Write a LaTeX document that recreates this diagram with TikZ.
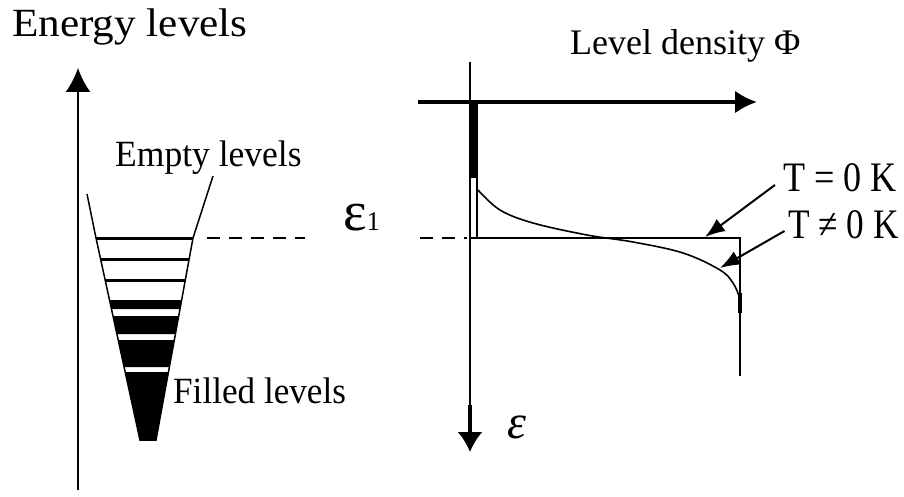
\documentclass[tikz,border=0pt]{standalone}
\usepackage{fontspec}
\setmainfont{Liberation Serif}
\usetikzlibrary{arrows.meta,calc}
\begin{document}
\begin{tikzpicture}[x=1pt,y=-1pt,
  lbl/.style={inner sep=0pt,anchor=base west,font=\fontsize{37}{40}\selectfont},
  tlbl/.style={inner sep=0pt,anchor=base west,font=\fontsize{42}{44}\selectfont},
  dashline/.style={line width=2pt,dash pattern=on 13pt off 9pt},
  ptr/.style={line width=2pt,-{Latex[length=20pt,width=15pt]}},
  thinline/.style={line width=2pt}]
\useasboundingbox (0,0) rectangle (904,497);

% ---------- texts ----------
\node[lbl,font=\fontsize{40}{44}\selectfont] (energy) at (12,37) {\scalebox{1.08}[1]{Energy levels}};
\node[lbl] (empty) at (115,167) {\scalebox{0.96}[1]{Empty levels}};
\node[lbl] (filled) at (173,403) {\scalebox{0.95}[1]{Filled levels}};
\node[lbl,font=\fontsize{36}{40}\selectfont] (dens) at (570,55) {Level density Φ};
\node[inner sep=0pt,anchor=base west] (eps1) at (343,230) {\fontsize{56}{60}\selectfont ε\fontsize{27}{30}\selectfont 1};
\node[inner sep=0pt,anchor=base west] (epsax) at (507,438) {\fontsize{48}{50}\selectfont\itshape ε};
\node[tlbl] (t0) at (783,192) {\scalebox{0.86}[1]{T = 0 K}};
\node[tlbl] (t1) at (788,238) {\scalebox{0.84}[1]{T ≠ 0 K}};

% ---------- left: energy axis ----------
\coordinate (ea0) at (78,490);
\coordinate (ea1) at (78,68);
\draw[line width=2pt,-{Latex[length=24pt,width=25pt]}] (ea0) -- (ea1);

% ---------- funnel ----------
\draw[line width=1.5pt] (87,194) -- (96,238) -- (140,440) -- (156,440) -- (193,238) -- (213,176);
\draw[line width=3pt] (96,238) -- (193,238);
\draw[line width=3pt] (100.6,259) -- (189.2,259);
\draw[line width=3pt] (105.1,280) -- (185.3,280);
\fill (109.5,300) -- (181.6,300) -- (180.0,309) -- (111.5,309) -- cycle;
\fill (113.0,316) -- (178.7,316) -- (175.4,334) -- (116.9,334) -- cycle;
\fill (118.2,340) -- (174.3,340) -- (169.4,367) -- (124.1,367) -- cycle;
\fill (125.2,372) -- (168.5,372) -- (156,440) -- (140,440) -- cycle;
\coordinate (fl0) at (207,238);
\coordinate (fl1) at (305,238);
\draw[dashline] (fl0) -- (fl1);

% ---------- right: density diagram ----------
\coordinate (hx0) at (418,102);
\coordinate (hx1) at (757,102);
\draw[line width=4pt,-{Latex[length=22pt,width=23pt]}] (hx0) -- (hx1);
\coordinate (vx0) at (470,62);
\coordinate (vx1) at (470,452);
\draw[line width=2.5pt,-{Latex[length=20pt,width=25pt]}] (vx0) -- (vx1);
\draw[line width=4.5pt] (470,405) -- (470,434);
\coordinate (rl0) at (420,238);
\coordinate (rl1) at (467,238);
\draw[dashline] (rl0) -- (rl1);

% T = 0 K step
\fill (469,102) rectangle (478,178);
\draw[thinline] (477,178) -- (477,238);
\draw[thinline] (470,238) -- (740,238) -- (740,376);
\draw[line width=4pt] (740,293) -- (740,313);

% T != 0 K curve
\draw[line width=1.6pt] plot[smooth,tension=0.6] coordinates
  {(478,190) (500,210) (533,223) (587,235) (633,242) (683,253) (720,270) (733,283) (739,296)};

% pointers
\coordinate (tip0) at (705,237);
\coordinate (tip1) at (720,268);
\draw[ptr,shorten <=10pt] (t0.west |- 0,179) -- (tip0);
\draw[ptr,shorten <=4pt] (t1.west |- 0,229) -- (tip1);
\end{tikzpicture}
\end{document}
